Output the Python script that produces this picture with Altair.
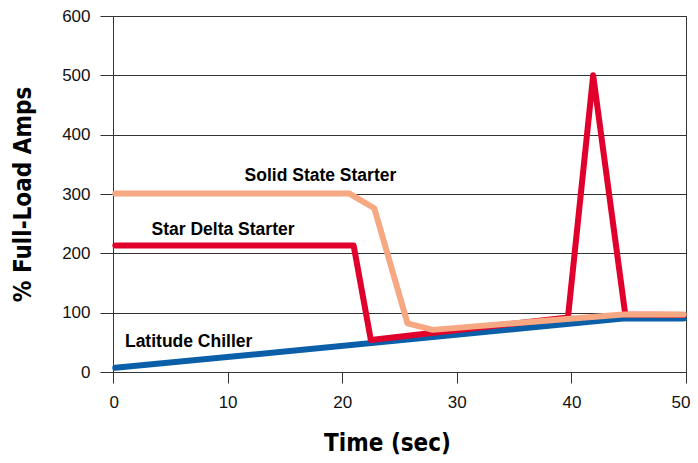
import altair as alt
import pandas as pd

chiller_x = [0.2, 44.5, 49.8]
chiller_y = [7, 90, 90]

star_x = [0.2, 21.0, 22.5, 39.7, 41.9, 44.7, 49.8]
star_y = [213, 213, 54, 92, 500, 97, 96]

solid_x = [0.2, 20.6, 22.8, 25.7, 27.9, 44.5, 49.8]
solid_y = [301, 301, 276, 82, 71, 97, 97]

label_text = ["Solid State Starter", "Star Delta Starter", "Latitude Chiller"]
label_x = [18.1, 9.6, 6.6]
label_y = [331, 239, 51]

series_names = ["Latitude Chiller", "Star Delta Starter", "Solid State Starter"]
series_colors = ["#0A5FA8", "#E0002B", "#F5A882"]

rows = []
for name, xs, ys in zip(series_names, [chiller_x, star_x, solid_x], [chiller_y, star_y, solid_y]):
    for i, (a, b) in enumerate(zip(xs, ys)):
        rows.append({"series": name, "t": a, "amps": b, "idx": i})
df = pd.DataFrame(rows)
labels = pd.DataFrame({"text": label_text, "t": label_x, "amps": label_y})

x_enc = alt.X("t:Q", scale=alt.Scale(domain=[0, 50], nice=False),
              axis=alt.Axis(title="Time (sec)", values=[0, 10, 20, 30, 40, 50], grid=False,
                            tickSize=11, labelPadding=11, titlePadding=21, titleX=274,
                            labelFlush=True, labelFlushOffset=4))
y_enc = alt.Y("amps:Q", scale=alt.Scale(domain=[0, 600], nice=False),
              axis=alt.Axis(title="% Full-Load Amps", values=[0, 100, 200, 300, 400, 500, 600],
                            grid=True, tickSize=13, labelPadding=10, titlePadding=26,
                            labelFlush=False))

layers = []
for name, col in zip(series_names, series_colors):
    layers.append(
        alt.Chart(df).transform_filter(alt.datum.series == name)
        .mark_line(color=col, strokeWidth=6, strokeCap="round", strokeJoin="round")
        .encode(x=x_enc, y=y_enc, order="idx:Q")
    )

text_layer = alt.Chart(labels).mark_text(
    font="Liberation Sans", fontWeight="bold", fontSize=17.5, color="#000000", align="center", baseline="middle"
).encode(x=alt.X("t:Q"), y=alt.Y("amps:Q"), text="text:N")

chart = alt.layer(*layers, text_layer).properties(
    width=573, height=356,
    autosize=alt.AutoSizeParams(type="none"),
    padding={"left": 105, "top": 8, "right": 4, "bottom": 88},
).configure_view(stroke="#333333", strokeWidth=1).configure_axis(
    domainColor="#333333", tickColor="#333333", gridColor="#333333", gridWidth=1,
    labelFont="Liberation Sans", labelFontSize=17, labelColor="#111111",
    titleFont="DejaVu Sans Condensed, Liberation Sans Narrow, Liberation Sans", titleFontWeight="bold",
    titleFontSize=24, titleColor="#000000",
)

chart.save("out.html", embed_options={"renderer": "svg", "actions": False})
